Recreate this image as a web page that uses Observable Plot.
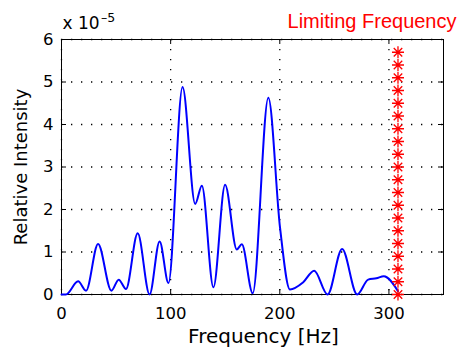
<!DOCTYPE html>
<html>
<head>
<meta charset="utf-8">
<script src="https://cdn.jsdelivr.net/npm/d3@7"></script>
<script src="https://cdn.jsdelivr.net/npm/@observablehq/plot@0.6"></script>
<style>
  html, body { margin: 0; padding: 0; background: white; }
</style>
</head>
<body>
<div id="chart"></div>
<script>
// Frequency [Hz] and relative intensity (in units of 1e-5)
const frequency = [0, 4, 15.2, 22.5, 33.5, 45.7, 52.4, 59.1, 69.8, 80.7, 89.9, 98.0, 110.9, 122.5, 128.6, 139.2, 149.9, 160.6, 165.2, 175.2, 189.5, 200.2, 209.3, 221.5, 231.5, 243.8, 257.1, 270.9, 281, 288.5, 295.3, 308.3];
const intensity = [0, 0, 0.31, 0.09, 1.19, 0.09, 0.35, 0.13, 1.44, 0.0, 1.25, 0.27, 4.88, 2.13, 2.56, 0.17, 2.58, 1.06, 1.18, 0.03, 4.63, 1.58, 0.12, 0.29, 0.56, 0.0, 1.07, 0.0, 0.35, 0.38, 0.43, 0.08];

// Limiting frequency marker column
const limitingFrequency = 308.3;
const limitMarkerLevels = [0, 0.3, 0.6, 0.9, 1.2, 1.5, 1.8, 2.1, 2.4, 2.7, 3.0, 3.3, 3.6, 3.9, 4.2, 4.5, 4.8, 5.1, 5.4, 5.7];

const xTicks = [0, 100, 200, 300];
const yTicks = [0, 1, 2, 3, 4, 5, 6];
const xDomain = [0, 350];
const yDomain = [0, 6];

const curve = frequency.map((f, i) => ({f, v: intensity[i]}));
const stars = limitMarkerLevels.map(v => ({f: limitingFrequency, v}));

const W = 459, H = 352;
const mL = 61, mR = 16, mT = 39, mB = 58;
const plotW = W - mL - mR, plotH = H - mT - mB;
const tickLen = 5;

const star8 = {
  draw(ctx, size) {
    const r = Math.sqrt(size / Math.PI);
    const d = r * 0.7071;
    ctx.moveTo(-r, 0); ctx.lineTo(r, 0);
    ctx.moveTo(0, -r); ctx.lineTo(0, r);
    ctx.moveTo(-d, -d); ctx.lineTo(d, d);
    ctx.moveTo(-d, d); ctx.lineTo(d, -d);
  }
};

const dotted = {stroke: "black", strokeWidth: 1.3, strokeDasharray: "1.3,8.7"};

const chart = Plot.plot({
  width: W,
  height: H,
  marginLeft: mL,
  marginRight: mR,
  marginTop: mT,
  marginBottom: mB,
  style: {fontFamily: "DejaVu Sans", fontSize: "16.5px", color: "black", background: "white"},
  x: {domain: xDomain},
  y: {domain: yDomain},
  marks: [
    Plot.ruleX(xTicks, {x: d => d, ...dotted}),
    Plot.ruleY(yTicks, {y: d => d, ...dotted}),
    Plot.frame({stroke: "black", strokeWidth: 1}),
    Plot.tickX(xTicks, {x: d => d, insetTop: plotH - tickLen, stroke: "black"}),
    Plot.tickX(xTicks, {x: d => d, insetBottom: plotH - tickLen, stroke: "black"}),
    Plot.tickY(yTicks, {y: d => d, insetRight: plotW - tickLen, stroke: "black"}),
    Plot.tickY(yTicks, {y: d => d, insetLeft: plotW - tickLen, stroke: "black"}),
    Plot.axisX({ticks: xTicks, tickSize: 0, tickPadding: 13, label: null, tickFormat: d => String(d)}),
    Plot.axisY({ticks: yTicks, tickSize: 0, tickPadding: 8, label: null, tickFormat: d => String(d)}),
    Plot.line(curve, {x: "f", y: "v", stroke: "#0000ff", strokeWidth: 2, curve: "monotone-x"}),
    Plot.dot(stars, {x: "f", y: "v", symbol: star8, r: 6, stroke: "#ff0000", strokeWidth: 1.3}),
    Plot.text(["x 10"], {frameAnchor: "top-left", textAnchor: "start", lineAnchor: "bottom", dx: 1, dy: -10.7, fontSize: 17, fill: "black"}),
    Plot.text(["\u20135"], {frameAnchor: "top-left", textAnchor: "start", lineAnchor: "bottom", dx: 39.5, dy: -17.3, fontSize: 12.5, fill: "black"}),
    Plot.text(["Limiting Frequency"], {frameAnchor: "top-right", textAnchor: "end", lineAnchor: "bottom", dx: 13, dy: -11.7, fontSize: 20, fontFamily: "Liberation Sans", fill: "#ff0000"}),
    Plot.text(["Relative Intensity"], {frameAnchor: "left", textAnchor: "middle", lineAnchor: "bottom", rotate: -90, dx: -34.3, fontSize: 18, fill: "black"}),
    Plot.text(["Frequency [Hz]"], {frameAnchor: "bottom", textAnchor: "middle", lineAnchor: "bottom", dx: 11, dy: 48.3, fontSize: 20, fill: "black"})
  ]
});
document.getElementById("chart").appendChild(chart);
</script>
</body>
</html>
